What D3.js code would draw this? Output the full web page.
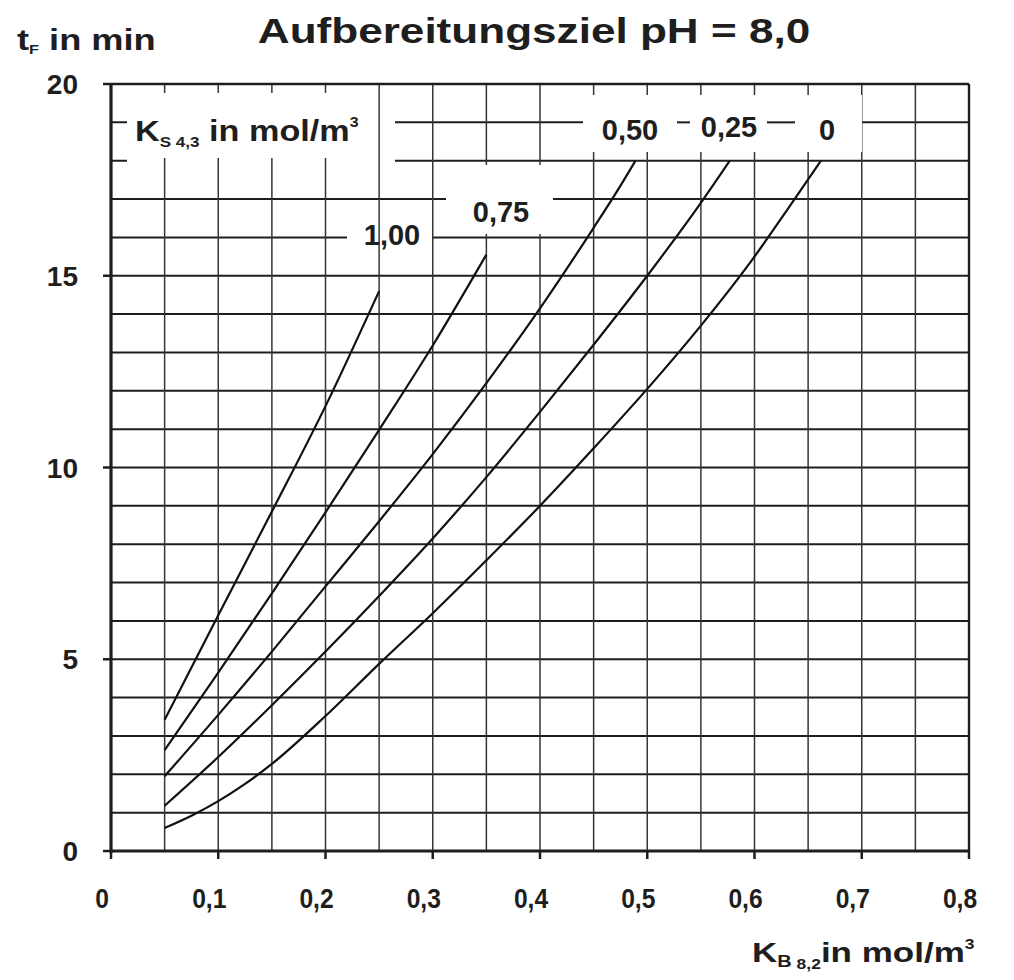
<!DOCTYPE html>
<html><head><meta charset="utf-8">
<script src="https://cdn.jsdelivr.net/npm/d3@7"></script>
<style>
body{margin:0;background:#fff;}
text{font-family:"Liberation Sans",Arial,sans-serif;font-weight:bold;fill:#1e1e1e;}
</style>
</head><body><svg id="c" width="1014" height="980"></svg>
<script>
// ---- data ----
const xTicks = [0, 0.1, 0.2, 0.3, 0.4, 0.5, 0.6, 0.7, 0.8];
const xTickLabels = ["0", "0,1", "0,2", "0,3", "0,4", "0,5", "0,6", "0,7", "0,8"];
const yTicks = [0, 5, 10, 15, 20];
const yTickLabels = ["0", "5", "10", "15", "20"];
const curveLabels = ["1,00", "0,75", "0,50", "0,25", "0"];
// [K_B8,2 in mol/m3, t_F in min]
const curveKs100 = [[0.05,3.42],[0.1,6.15],[0.15,8.85],[0.2,11.6],[0.25,14.6]];
const curveKs075 = [[0.05,2.63],[0.1,4.65],[0.15,6.72],[0.2,8.83],[0.25,10.98],[0.3,13.18],[0.35,15.55]];
const curveKs050 = [[0.05,1.95],[0.1,3.55],[0.15,5.2],[0.2,6.9],[0.25,8.6],[0.3,10.35],[0.35,12.2],[0.4,14.15],[0.45,16.25],[0.47,17.12],[0.489,18]];
const curveKs025 = [[0.05,1.18],[0.1,2.45],[0.15,3.8],[0.2,5.2],[0.25,6.65],[0.3,8.15],[0.35,9.75],[0.4,11.45],[0.45,13.2],[0.5,15.0],[0.55,16.9],[0.577,18]];
const curveKs000 = [[0.05,0.6],[0.075,0.92],[0.1,1.3],[0.125,1.75],[0.15,2.27],[0.2,3.52],[0.25,4.88],[0.3,6.2],[0.35,7.58],[0.4,9.0],[0.45,10.5],[0.5,12.05],[0.55,13.7],[0.6,15.5],[0.63,16.7],[0.662,18]];
const curves = [curveKs100, curveKs075, curveKs050, curveKs025, curveKs000];

// ---- chart ----
const svg = d3.select("#c");
const ink = "#1e1e1e";
const x = d3.scaleLinear().domain([0, 0.8]).range([111, 969]);
const y = d3.scaleLinear().domain([0, 20]).range([851, 84]);
const gridX = d3.range(1, 16).map(i => i * 0.05);
const gridY = d3.range(1, 20);

// horizontal grid
svg.append("g").selectAll("line").data(gridY).join("line")
  .attr("x1", x(0)).attr("x2", x(0.8))
  .attr("y1", d => y(d)).attr("y2", d => y(d))
  .attr("stroke", ink).attr("stroke-width", 2);

// gaps in horizontal lines (label areas)  [t, xStart, xEnd]
const hGaps = [[19,127,395],[18,127,395],[19,583,862],[17,446,553],[16,347,432]];
svg.append("g").selectAll("rect").data(hGaps).join("rect")
  .attr("x", d => d[1]).attr("width", d => d[2] - d[1])
  .attr("y", d => y(d[0]) - 4).attr("height", 8).attr("fill", "#fff");

// vertical grid
svg.append("g").selectAll("line").data(gridX).join("line")
  .attr("x1", d => x(d)).attr("x2", d => x(d))
  .attr("y1", y(0)).attr("y2", y(20))
  .attr("stroke", "#363636").attr("stroke-width", 1.5);

// gaps in vertical lines (label areas) [x0,y0,x1,y1]
const vGaps = [[127,93,370,158],[583,95,862,152],[446,165,553,234]];
svg.append("g").selectAll("rect").data(vGaps).join("rect")
  .attr("x", d => d[0]).attr("y", d => d[1])
  .attr("width", d => d[2] - d[0]).attr("height", d => d[3] - d[1])
  .attr("fill", "#fff");

// short leftover dashes of the 19 line between the labels
const dashes = [[677,690],[767,795]];
svg.append("g").selectAll("line").data(dashes).join("line")
  .attr("x1", d => d[0]).attr("x2", d => d[1])
  .attr("y1", y(19)).attr("y2", y(19))
  .attr("stroke", ink).attr("stroke-width", 2);

// frame
const fr = svg.append("g").attr("stroke", ink).attr("fill", "none");
fr.append("line").attr("x1", x(0)).attr("x2", x(0)).attr("y1", y(0) + 2).attr("y2", y(20)).attr("stroke-width", 3.2);
fr.append("line").attr("x1", x(0)).attr("x2", x(0.8)).attr("y1", y(0)).attr("y2", y(0)).attr("stroke-width", 3.2);
fr.append("line").attr("x1", x(0)).attr("x2", x(0.8)).attr("y1", y(20)).attr("y2", y(20)).attr("stroke-width", 2.4);
fr.append("line").attr("x1", x(0.8)).attr("x2", x(0.8)).attr("y1", y(0)).attr("y2", y(20)).attr("stroke-width", 2.4);

// ticks
fr.selectAll(".yt").data(yTicks).join("line")
  .attr("x1", x(0) - 8).attr("x2", x(0)).attr("y1", d => y(d)).attr("y2", d => y(d)).attr("stroke-width", 2.5);
fr.selectAll(".xt").data(xTicks).join("line")
  .attr("x1", d => x(d)).attr("x2", d => x(d)).attr("y1", y(0)).attr("y2", y(0) + 8).attr("stroke-width", 2.5);

// tick labels
svg.append("g").selectAll("text").data(yTicks).join("text")
  .attr("transform", d => `translate(${x(0) - 33},${y(d) + 10})`)
  .attr("text-anchor", "end").attr("font-size", 28)
  .text((d, i) => yTickLabels[i]);
svg.append("g").selectAll("text").data(xTicks).join("text")
  .attr("transform", d => `translate(${x(d) - 9},908) scale(0.88,1)`)
  .attr("text-anchor", "middle").attr("font-size", 28)
  .text((d, i) => xTickLabels[i]);

// curves
const line = d3.line().x(d => x(d[0])).y(d => y(d[1])).curve(d3.curveMonotoneX);
svg.append("g").selectAll("path").data(curves).join("path")
  .attr("d", line).attr("fill", "none").attr("stroke", "#111").attr("stroke-width", 2.2);

// curve labels
const curveLabelPos = [[392,245],[501,222],[630,140],[729,137],[827,140]];
svg.append("g").selectAll("text").data(curveLabels).join("text")
  .attr("transform", (d, i) => `translate(${curveLabelPos[i][0]},${curveLabelPos[i][1]})`)
  .attr("text-anchor", "middle").attr("font-size", 29)
  .text(d => d);

// title
svg.append("text").attr("transform", "translate(534,43) scale(1.26,1)")
  .attr("text-anchor", "middle").attr("font-size", 35)
  .text("Aufbereitungsziel pH = 8,0");

// y axis title
const yt = svg.append("text").attr("transform", "translate(17,50) scale(1.25,1)").attr("font-size", 29);
yt.append("tspan").text("t");
yt.append("tspan").attr("font-size", 13).attr("dy", 4).text("F");
yt.append("tspan").attr("dy", -4).text(" in min");

// x axis title
const xt = svg.append("text").attr("transform", "translate(752,962) scale(1.25,1)").attr("font-size", 28);
xt.append("tspan").text("K");
xt.append("tspan").attr("font-size", 16).attr("dy", 5).text("B");
xt.append("tspan").attr("font-size", 14).attr("dy", 2).text(" 8,2");
xt.append("tspan").attr("dy", -7).text("in mol/m");
xt.append("tspan").attr("font-size", 14).attr("dy", -13).text("3");

// legend title
const kt = svg.append("text").attr("transform", "translate(135,141) scale(1.14,1)").attr("font-size", 30);
kt.append("tspan").text("K");
kt.append("tspan").attr("font-size", 15).attr("dy", 6).text("S 4,3");
kt.append("tspan").attr("dy", -6).text(" in mol/m");
kt.append("tspan").attr("font-size", 14).attr("dy", -14).text("3");
</script>
</body></html>
